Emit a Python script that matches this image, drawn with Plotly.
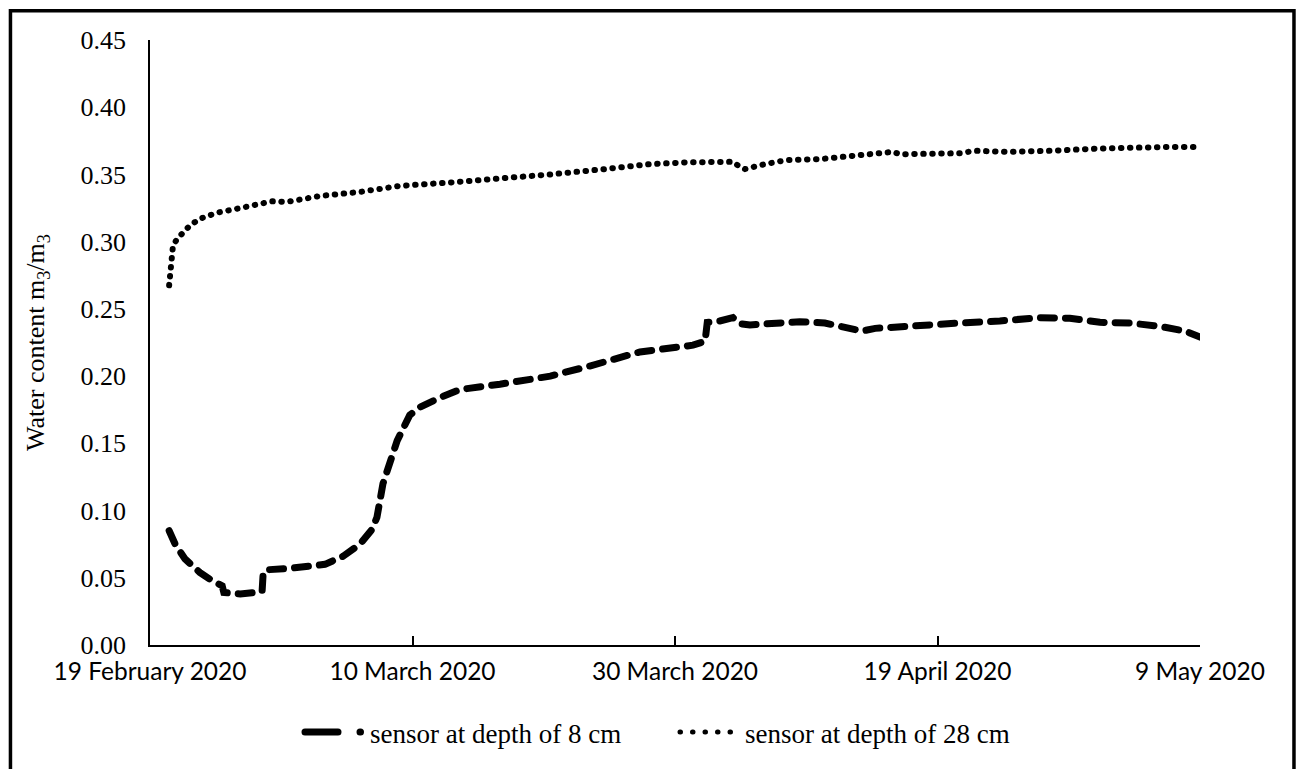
import plotly.graph_objects as go

# Soil water content readings (m3/m3) from two buried sensors
dates_8cm = [
    "2020-02-20 11:00", "2020-02-20 22:00", "2020-02-21 16:00", "2020-02-22 19:00",
    "2020-02-23 17:00", "2020-02-24 12:00", "2020-02-24 15:00", "2020-02-25 21:00",
    "2020-02-27 00:00", "2020-02-27 13:00", "2020-02-27 15:00", "2020-02-28 00:00",
    "2020-02-29 16:00", "2020-03-02 05:00", "2020-03-03 08:00", "2020-03-04 17:00",
    "2020-03-06 00:00", "2020-03-06 22:00", "2020-03-07 07:00", "2020-03-07 18:00",
    "2020-03-08 03:00", "2020-03-08 20:00", "2020-03-09 19:00", "2020-03-10 14:00",
    "2020-03-12 02:00", "2020-03-13 15:00", "2020-03-16 16:00", "2020-03-20 12:00",
    "2020-03-23 12:00", "2020-03-27 08:00", "2020-03-31 09:00", "2020-04-01 07:00",
    "2020-04-01 11:00", "2020-04-02 10:00", "2020-04-03 10:00", "2020-04-03 23:00",
    "2020-04-04 17:00", "2020-04-06 15:00", "2020-04-08 12:00", "2020-04-10 10:00",
    "2020-04-12 08:00", "2020-04-13 06:00", "2020-04-14 06:00", "2020-04-16 03:00",
    "2020-04-18 10:00", "2020-04-20 17:00", "2020-04-23 18:00", "2020-04-26 19:00",
    "2020-04-29 02:00", "2020-05-01 09:00", "2020-05-03 16:00", "2020-05-05 23:00",
    "2020-05-07 21:00", "2020-05-09 00:00",
]
water_8cm = [
    0.085, 0.075, 0.064, 0.054,
    0.048, 0.044, 0.039, 0.038,
    0.039, 0.040, 0.054, 0.056,
    0.057, 0.058, 0.060, 0.066,
    0.075, 0.086, 0.095, 0.120,
    0.132, 0.152, 0.171, 0.177,
    0.184, 0.190, 0.194, 0.200,
    0.2075, 0.218, 0.223, 0.226,
    0.240, 0.241, 0.2435, 0.239,
    0.238, 0.2395, 0.2405, 0.2395,
    0.236, 0.2335, 0.2355, 0.237,
    0.238, 0.2395, 0.241, 0.2435,
    0.243, 0.240, 0.2395, 0.237,
    0.2335, 0.229,
]

dates_28cm = [
    "2020-02-20 11:00", "2020-02-20 12:30", "2020-02-20 14:30", "2020-02-20 18:00",
    "2020-02-21 01:30", "2020-02-21 12:00", "2020-02-22 01:00", "2020-02-22 19:00",
    "2020-02-24 02:30", "2020-02-25 15:00", "2020-02-26 15:00", "2020-02-27 15:00",
    "2020-02-28 07:00", "2020-02-29 10:30", "2020-03-02 23:00", "2020-03-06 00:00",
    "2020-03-09 01:00", "2020-03-12 20:30", "2020-03-16 16:00", "2020-03-20 11:30",
    "2020-03-24 16:00", "2020-03-28 02:30", "2020-03-30 22:00", "2020-04-03 10:00",
    "2020-04-03 23:00", "2020-04-04 08:00", "2020-04-05 20:30", "2020-04-07 12:30",
    "2020-04-10 01:00", "2020-04-13 02:30", "2020-04-15 14:30", "2020-04-16 03:30",
    "2020-04-20 17:00", "2020-04-21 20:30", "2020-04-24 12:30", "2020-04-27 13:30",
    "2020-05-01 09:00", "2020-05-06 17:00", "2020-05-09 00:00",
]
water_28cm = [
    0.2675, 0.277, 0.285, 0.297,
    0.302, 0.307, 0.312, 0.317,
    0.3215, 0.3245, 0.3267, 0.3296,
    0.330, 0.3296, 0.334, 0.337,
    0.3415, 0.344, 0.3466, 0.350,
    0.354, 0.3577, 0.359, 0.3594,
    0.3555, 0.354, 0.3577, 0.3607,
    0.3614, 0.3639, 0.3668, 0.365,
    0.3658, 0.3676, 0.3668, 0.3676,
    0.3693, 0.3705, 0.3705,
]

series_names = ["sensor at depth of 8 cm", "sensor at depth of 28 cm"]

tick_dates = ["2020-02-19", "2020-03-10", "2020-03-30", "2020-04-19", "2020-05-09"]
tick_labels = ["19 February 2020", "10 March 2020", "30 March 2020", "19 April 2020", "9 May 2020"]

SERIF = "Liberation Serif, Times New Roman, serif"
SANS = "Lato, Calibri, sans-serif"

line_8cm = dict(color="black", width=7, dash="14px,11px")
line_28cm = dict(color="black", width=6, dash="0.5px,8.5px")

fig = go.Figure()
fig.add_trace(go.Scatter(x=dates_8cm, y=water_8cm, mode="lines",
                         name=series_names[0], line=line_8cm, showlegend=False))
fig.add_trace(go.Scatter(x=dates_28cm, y=water_28cm, mode="lines",
                         name=series_names[1], line=line_28cm, showlegend=False))

# Legend keys: the longer swatch shows a wider stretch of each line pattern
fig.add_trace(go.Scatter(x=[None], y=[None], mode="lines", name=series_names[0],
                         line=dict(color="black", width=7, dash="33px,22px,0.5px,60px")))
fig.add_trace(go.Scatter(x=[None], y=[None], mode="lines", name=series_names[1],
                         line=dict(color="black", width=5, dash="0.5px,12px")))

fig.update_layout(
    width=1300, height=769,
    margin=dict(l=150, r=100, t=40, b=120),
    paper_bgcolor="white", plot_bgcolor="white",
    showlegend=True,
    legend=dict(
        orientation="h", x=0.5, xanchor="center", y=-0.1445, yanchor="middle",
        font=dict(family=SERIF, size=27, color="black"),
        itemwidth=60, entrywidth=300,
    ),
    xaxis=dict(
        type="date", range=["2020-02-19", "2020-05-09"],
        tickvals=tick_dates, ticktext=tick_labels,
        ticks="inside", ticklen=9, tickwidth=1.5, tickcolor="black",
        ticklabelstandoff=4,
        showline=True, linecolor="black", linewidth=1.8,
        showgrid=False, zeroline=False,
        tickfont=dict(family=SANS, size=24.5, color="black"),
    ),
    yaxis=dict(
        range=[0, 0.45], dtick=0.05, tickformat=".2f",
        ticks="", ticklabelstandoff=17,
        showline=True, linecolor="black", linewidth=1.5,
        showgrid=False, zeroline=False,
        tickfont=dict(family=SERIF, size=26, color="black"),
        title=dict(text="Water content m<sub>3</sub>/m<sub>3</sub>",
                   font=dict(family=SERIF, size=26, color="black"), standoff=28),
    ),
)

# Frame drawn around the whole figure
fig.add_shape(type="rect", xref="paper", yref="paper",
              x0=-0.1329, x1=1.0895, y0=-0.25, y1=1.0484,
              line=dict(color="black", width=3.5), layer="above")

round_caps = (
    "document.querySelectorAll('.scatterlayer .js-line, .legend .js-line')"
    ".forEach(function(p){p.style.strokeLinecap='round';});"
)
fig.write_html("out.html", post_script=round_caps)
